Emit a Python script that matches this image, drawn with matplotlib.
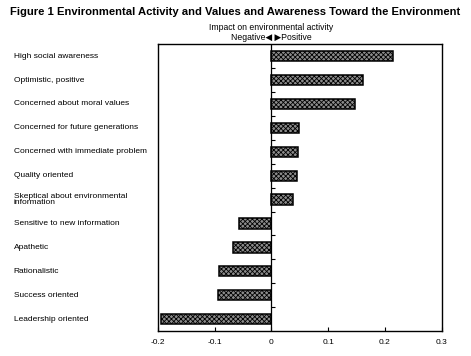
import numpy as np
import matplotlib.pyplot as plt

# data
categories = ['High social awareness', 'Optimistic, positive', 'Concerned about moral values',
              'Concerned for future generations', 'Concerned with immediate problem',
              'Quality oriented', 'Skeptical about environmental\ninformation',
              'Sensitive to new information', 'Apathetic', 'Rationalistic',
              'Success oriented', 'Leadership oriented']
impact = [0.214, 0.162, 0.147, 0.049, 0.047, 0.045, 0.038,
          -0.057, -0.068, -0.093, -0.094, -0.195]
xticks = [-0.2, -0.1, 0, 0.1, 0.2, 0.3]
xticklabels = ['-0.2', '-0.1', '0', '0.1', '0.2', '0.3']

plt.rcParams['font.family'] = ['Liberation Sans', 'DejaVu Sans']
plt.rcParams['hatch.color'] = '#2a2a2a'
plt.rcParams['hatch.linewidth'] = 0.6

fig = plt.figure(figsize=(4.71, 3.56), dpi=100)
ax = fig.add_axes([0.335, 0.07, 0.603, 0.806])

y = np.arange(len(categories))
ax.barh(y, impact, height=0.43, color='#8c8c8c', edgecolor='black',
        linewidth=1.1, hatch='xxxxxxx')
ax.axvline(0, color='black', lw=0.9)
# small marks between categories on the zero line
ax.hlines(y[:-1] + 0.5, 0, 0.006, color='black', lw=0.8)

ax.set_xlim(-0.2, 0.3)
ax.set_ylim(len(categories) - 0.5, -0.5)
ax.set_xticks(xticks)
ax.set_xticklabels(xticklabels, fontsize=6)
ax.tick_params(axis='x', direction='in', length=3, width=0.8, pad=6)
ax.set_yticks([])
for s in ax.spines.values():
    s.set_linewidth(1.0)

for yi, lab in zip(y, categories):
    ax.text(-0.507, yi, lab, fontsize=6.0, ha='left', va='center',
            linespacing=0.95, clip_on=False, transform=ax.get_yaxis_transform())

ax.text(0, 1.058, 'Impact on environmental activity', transform=ax.get_xaxis_transform(),
        ha='center', va='center', fontsize=6.2)
ax.text(0, 1.022, 'Negative\u25c0 \u25b6Positive', transform=ax.get_xaxis_transform(),
        ha='center', va='center', fontsize=6.2, family=['Liberation Sans', 'DejaVu Sans'])

fig.text(0.5, 0.965, 'Figure 1 Environmental Activity and Values and Awareness Toward the Environment',
         ha='center', va='center', fontsize=8.1, fontweight='heavy',
         family=['Liberation Sans Narrow', 'Liberation Sans', 'DejaVu Sans'])

plt.savefig('out.png', dpi=100)
plt.close(fig)
